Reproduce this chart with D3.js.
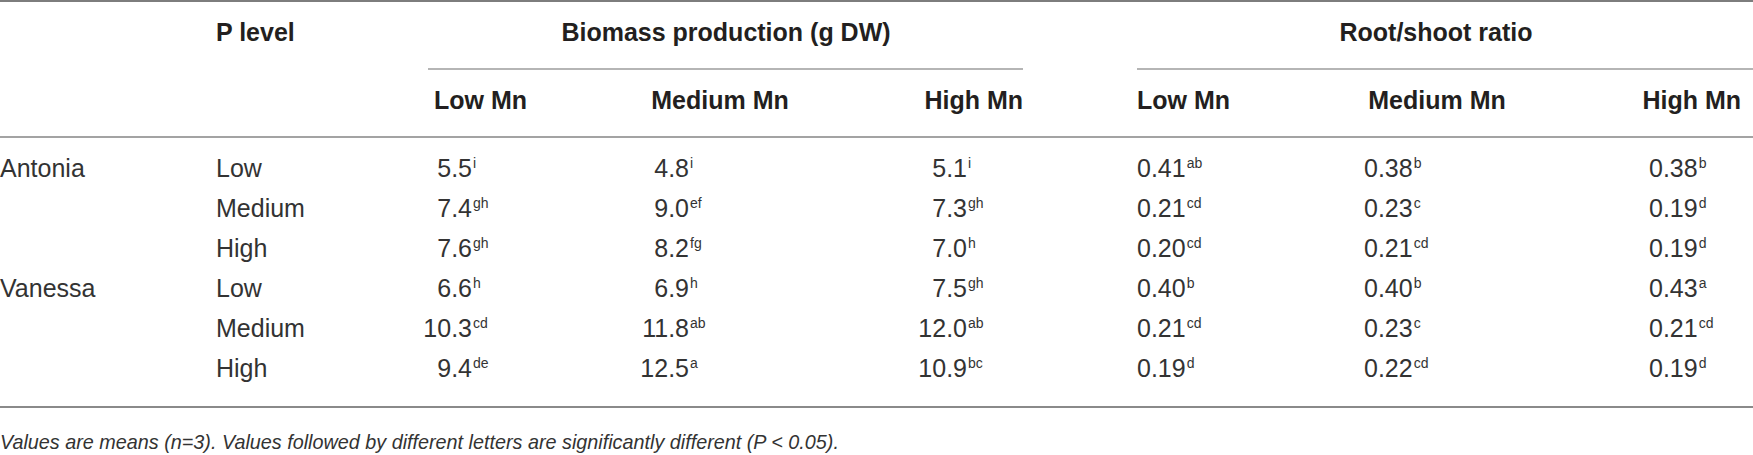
<!DOCTYPE html>
<html>
<head>
<meta charset="utf-8">
<script src="https://cdn.jsdelivr.net/npm/d3@7"></script>
<style>
  body { margin: 0; background: #fff; }
  svg text { fill: #231f20; }
  svg .light text { fill: #333; }
</style>
</head>
<body>
<div id="table"></div>
<script>
// table contents
const cultivars = ["Antonia", "Vanessa"];
const pLevels = ["Low", "Medium", "High"];
const mnLevels = ["Low Mn", "Medium Mn", "High Mn"];

// biomass (g DW), one row per cultivar x P level, columns = Mn level
const biomassValues = [
  [5.5, 4.8, 5.1],
  [7.4, 9.0, 7.3],
  [7.6, 8.2, 7.0],
  [6.6, 6.9, 7.5],
  [10.3, 11.8, 12.0],
  [9.4, 12.5, 10.9]
];
const biomassLetters = [
  ["i", "i", "i"],
  ["gh", "ef", "gh"],
  ["gh", "fg", "h"],
  ["h", "h", "gh"],
  ["cd", "ab", "ab"],
  ["de", "a", "bc"]
];

// root/shoot ratio
const ratioValues = [
  [0.41, 0.38, 0.38],
  [0.21, 0.23, 0.19],
  [0.20, 0.21, 0.19],
  [0.40, 0.40, 0.43],
  [0.21, 0.23, 0.21],
  [0.19, 0.22, 0.19]
];
const ratioLetters = [
  ["ab", "b", "b"],
  ["cd", "c", "d"],
  ["cd", "cd", "d"],
  ["b", "b", "a"],
  ["cd", "c", "cd"],
  ["d", "cd", "d"]
];

const groupTitles = ["Biomass production (g DW)", "Root/shoot ratio"];
const footnote = "Values are means (n=3). Values followed by different letters are significantly different (P < 0.05).";

// layout
const width = 1753;
const height = 455;
const bodyFont = "'Liberation Sans', Arial, sans-serif";
const headFont = "'Liberation Sans', Arial, sans-serif";

const svg = d3.select("#table")
  .append("svg")
  .attr("width", width)
  .attr("height", height);

// rows: one per cultivar x P level
const rows = [];
cultivars.forEach((c, ci) => pLevels.forEach((p, pi) => rows.push({ cultivar: c, p, first: pi === 0, i: ci * pLevels.length + pi })));

const y = d3.scalePoint()
  .domain(d3.range(rows.length))
  .range([177, 377]);

// column anchors for numbers (biomass right aligned on the number, ratio left aligned)
const xBiomass = d3.scaleOrdinal().domain(mnLevels).range([472, 689, 967]);
const xRatio = d3.scaleOrdinal().domain(mnLevels).range([1137, 1364, 1649]);

// rules
const rules = [
  { x1: 0, x2: width, y: 1, w: 2, c: "#7d7d7d" },
  { x1: 428, x2: 1023, y: 69, w: 1.5, c: "#9d9d9d" },
  { x1: 1137, x2: width, y: 69, w: 1.5, c: "#9d9d9d" },
  { x1: 0, x2: width, y: 137, w: 2, c: "#a3a3a3" },
  { x1: 0, x2: width, y: 407, w: 2, c: "#8a8a8a" }
];
svg.selectAll("line.rule")
  .data(rules)
  .join("line")
  .attr("class", "rule")
  .attr("x1", d => d.x1)
  .attr("x2", d => d.x2)
  .attr("y1", d => d.y)
  .attr("y2", d => d.y)
  .attr("stroke", d => d.c)
  .attr("stroke-width", d => d.w);

// header row 1
const head = svg.append("g")
  .style("font-family", headFont)
  .style("font-weight", "bold")
  .style("font-size", "25px");

head.append("text").attr("x", 216).attr("y", 41).text("P level");
head.append("text").attr("x", 726).attr("y", 41).attr("text-anchor", "middle").text(groupTitles[0]);
head.append("text").attr("x", 1436).attr("y", 41).attr("text-anchor", "middle").text(groupTitles[1]);

// header row 2
const biomassHeadX = [434, 720, 1023];
const biomassHeadAnchor = ["start", "middle", "end"];
const ratioHeadX = [1137, 1437, 1741];
const ratioHeadAnchor = ["start", "middle", "end"];

head.selectAll("text.bm")
  .data(mnLevels)
  .join("text")
  .attr("class", "bm")
  .attr("x", (d, i) => biomassHeadX[i])
  .attr("y", 109)
  .attr("text-anchor", (d, i) => biomassHeadAnchor[i])
  .text(d => d);

head.selectAll("text.rs")
  .data(mnLevels)
  .join("text")
  .attr("class", "rs")
  .attr("x", (d, i) => ratioHeadX[i])
  .attr("y", 109)
  .attr("text-anchor", (d, i) => ratioHeadAnchor[i])
  .text(d => d);

// body rows
const body = svg.append("g")
  .attr("class", "light")
  .style("font-family", bodyFont)
  .style("font-size", "25px");

const row = body.selectAll("g.row")
  .data(rows)
  .join("g")
  .attr("class", "row")
  .attr("transform", d => `translate(0,${y(d.i)})`);

row.filter(d => d.first)
  .append("text")
  .attr("x", 0)
  .text(d => d.cultivar);

row.append("text")
  .attr("x", 216)
  .text(d => d.p);

const fmt1 = d3.format(".1f");
const fmt2 = d3.format(".2f");

// biomass cells
mnLevels.forEach((mn, j) => {
  row.append("text")
    .attr("x", xBiomass(mn))
    .attr("text-anchor", "end")
    .text(d => fmt1(biomassValues[d.i][j]));
  row.append("text")
    .attr("x", xBiomass(mn) + 1)
    .attr("y", -9)
    .style("font-size", "14px")
    .text(d => biomassLetters[d.i][j]);
});

// root/shoot cells
mnLevels.forEach((mn, j) => {
  const cell = row.append("text")
    .attr("x", xRatio(mn));
  cell.append("tspan")
    .text(d => fmt2(ratioValues[d.i][j]));
  cell.append("tspan")
    .attr("dx", 1)
    .attr("dy", -9)
    .style("font-size", "14px")
    .text(d => ratioLetters[d.i][j]);
});

// footnote
svg.append("g")
  .attr("class", "light")
  .append("text")
  .attr("x", 0)
  .attr("y", 449)
  .style("font-family", bodyFont)
  .style("font-style", "italic")
  .style("font-size", "19.8px")
  .text(footnote);
</script>
</body>
</html>
